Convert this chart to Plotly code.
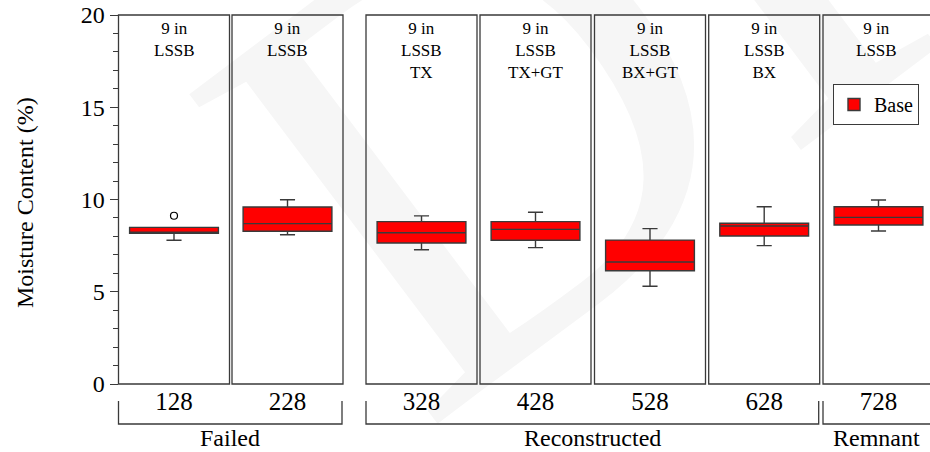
import plotly.graph_objects as go

# ---- data -------------------------------------------------------------
sections = ["128", "228", "328", "428", "528", "628", "728"]
headers = [
    "9 in<br>LSSB",
    "9 in<br>LSSB",
    "9 in<br>LSSB<br>TX",
    "9 in<br>LSSB<br>TX+GT",
    "9 in<br>LSSB<br>BX+GT",
    "9 in<br>LSSB<br>BX",
    "9 in<br>LSSB",
]
groups = ["Failed", "Reconstructed", "Remnant"]
group_members = [[0, 1], [2, 3, 4, 5], [6]]

q1 = [8.17, 8.28, 7.64, 7.79, 6.14, 8.02, 8.62]
median = [8.17, 8.69, 8.20, 8.38, 6.61, 8.56, 9.03]
q3 = [8.49, 9.59, 8.80, 8.80, 7.80, 8.71, 9.61]
lower_whisker = [7.79, 8.09, 7.28, 7.39, 5.30, 7.50, 8.29]
upper_whisker = [8.49, 9.99, 9.11, 9.31, 8.42, 9.61, 9.97]
outlier_section = [0]
outlier_value = [9.12]

# ---- layout geometry (pixels) -----------------------------------------
W, H = 930, 452
panel_left = [118.5, 232.0, 366.0, 480.0, 594.5, 708.7, 823.0]
panel_w = 111.0
plot_top, plot_bottom = 15.0, 384.0

FONT = "Liberation Serif"
LINE = "#3a3a3a"


def px(x):
    return x / W


def py(y):
    return 1 - y / H


fig = go.Figure()
layout = dict(
    width=W, height=H,
    margin=dict(l=0, r=0, t=0, b=0, autoexpand=False),
    paper_bgcolor="white",
    plot_bgcolor="rgba(0,0,0,0)",
    font=dict(family=FONT, color="black"),
    showlegend=True,
    legend=dict(
        x=px(833), y=py(84), xanchor="left", yanchor="top",
        bordercolor=LINE, borderwidth=1, bgcolor="white",
        font=dict(family=FONT, size=20),
        itemwidth=30,
    ),
    yaxis=dict(
        domain=[py(plot_bottom), py(plot_top)],
        range=[0, 20],
        tickvals=[0, 5, 10, 15, 20],
        ticks="outside", ticklen=8, tickwidth=1.2, tickcolor=LINE,
        minor=dict(dtick=1, ticks="outside", ticklen=5, tickwidth=1.2, tickcolor=LINE),
        showgrid=False, zeroline=False, showline=False,
        tickfont=dict(family=FONT, size=24),
        anchor="x", automargin=False,
    ),
)

shapes = []
annotations = []

# faint "DK" watermark behind everything
shapes.append(dict(
    type="rect", xref="paper", yref="paper",
    x0=px(567), x1=px(667), y0=py(-14), y1=py(-114),
    line=dict(width=0), fillcolor="rgba(0,0,0,0)", layer="below",
    label=dict(text="DK", textangle=-37, textposition="middle center",
               font=dict(family=FONT, size=630, color="#f6f6f6")),
))

for i, sec in enumerate(sections):
    ax = "x" if i == 0 else f"x{i + 1}"
    key = "xaxis" if i == 0 else f"xaxis{i + 1}"
    left = panel_left[i]
    right = min(left + panel_w, W)
    hi = -0.5 + (right - left) / panel_w
    layout[key] = dict(
        domain=[px(left), px(right)],
        range=[-0.5, hi],
        tickvals=[0], ticktext=[sec],
        ticks="", showgrid=False, zeroline=False, showline=False,
        tickfont=dict(family=FONT, size=25),
        anchor="y", automargin=False,
    )

    fig.add_trace(go.Box(
        x=[0], q1=[q1[i]], median=[median[i]], q3=[q3[i]],
        lowerfence=[lower_whisker[i]], upperfence=[upper_whisker[i]],
        width=0.8, whiskerwidth=0.17,
        fillcolor="#ff0000",
        line=dict(color=LINE, width=1.4),
        boxpoints=False,
        name="Base", legendgroup="base",
        showlegend=(i == 0),
        xaxis=ax, yaxis="y",
    ))

    # panel frame (the last panel runs past the right edge)
    shapes.append(dict(
        type="rect", xref=f"{ax} domain", yref="y domain",
        x0=0, x1=1 if i < len(sections) - 1 else 1.05, y0=0, y1=1,
        line=dict(color=LINE, width=1.3), layer="above",
    ))

    annotations.append(dict(
        xref=f"{ax} domain", yref="y domain", x=0.5, y=1,
        xanchor="center", yanchor="top", yshift=-2,
        text=headers[i], showarrow=False,
        font=dict(family=FONT, size=17),
    ))

# outlying observation
for s, v in zip(outlier_section, outlier_value):
    ax = "x" if s == 0 else f"x{s + 1}"
    fig.add_trace(go.Scatter(
        x=[0], y=[v], mode="markers",
        marker=dict(symbol="circle-open", size=7, color="black", line=dict(width=1.2)),
        showlegend=False, xaxis=ax, yaxis="y",
    ))

# group brackets below the section labels
bracket_top, bracket_bottom = 401.0, 424.0
for g, members in zip(groups, group_members):
    x0 = panel_left[members[0]]
    x1 = panel_left[members[-1]] + panel_w - 1
    if x1 > W:
        path = f"M {px(x0)},{py(bracket_top)} L {px(x0)},{py(bracket_bottom)} L {px(x1 + 10)},{py(bracket_bottom)}"
    else:
        path = (f"M {px(x0)},{py(bracket_top)} L {px(x0)},{py(bracket_bottom)} "
                f"L {px(x1)},{py(bracket_bottom)} L {px(x1)},{py(bracket_top)}")
    shapes.append(dict(type="path", xref="paper", yref="paper", path=path,
                       line=dict(color=LINE, width=1.3)))
    annotations.append(dict(
        xref="paper", yref="paper", x=px((x0 + min(x1, 930)) / 2), y=py(438),
        xanchor="center", yanchor="middle", text=g, showarrow=False,
        font=dict(family=FONT, size=24),
    ))

# y-axis title
annotations.append(dict(
    xref="paper", yref="paper", x=px(25), y=py(203),
    xanchor="center", yanchor="middle", textangle=-90,
    text="Moisture Content (%)", showarrow=False,
    font=dict(family=FONT, size=24),
))

layout["shapes"] = shapes
layout["annotations"] = annotations
fig.update_layout(**layout)
fig.write_html("out.html")
